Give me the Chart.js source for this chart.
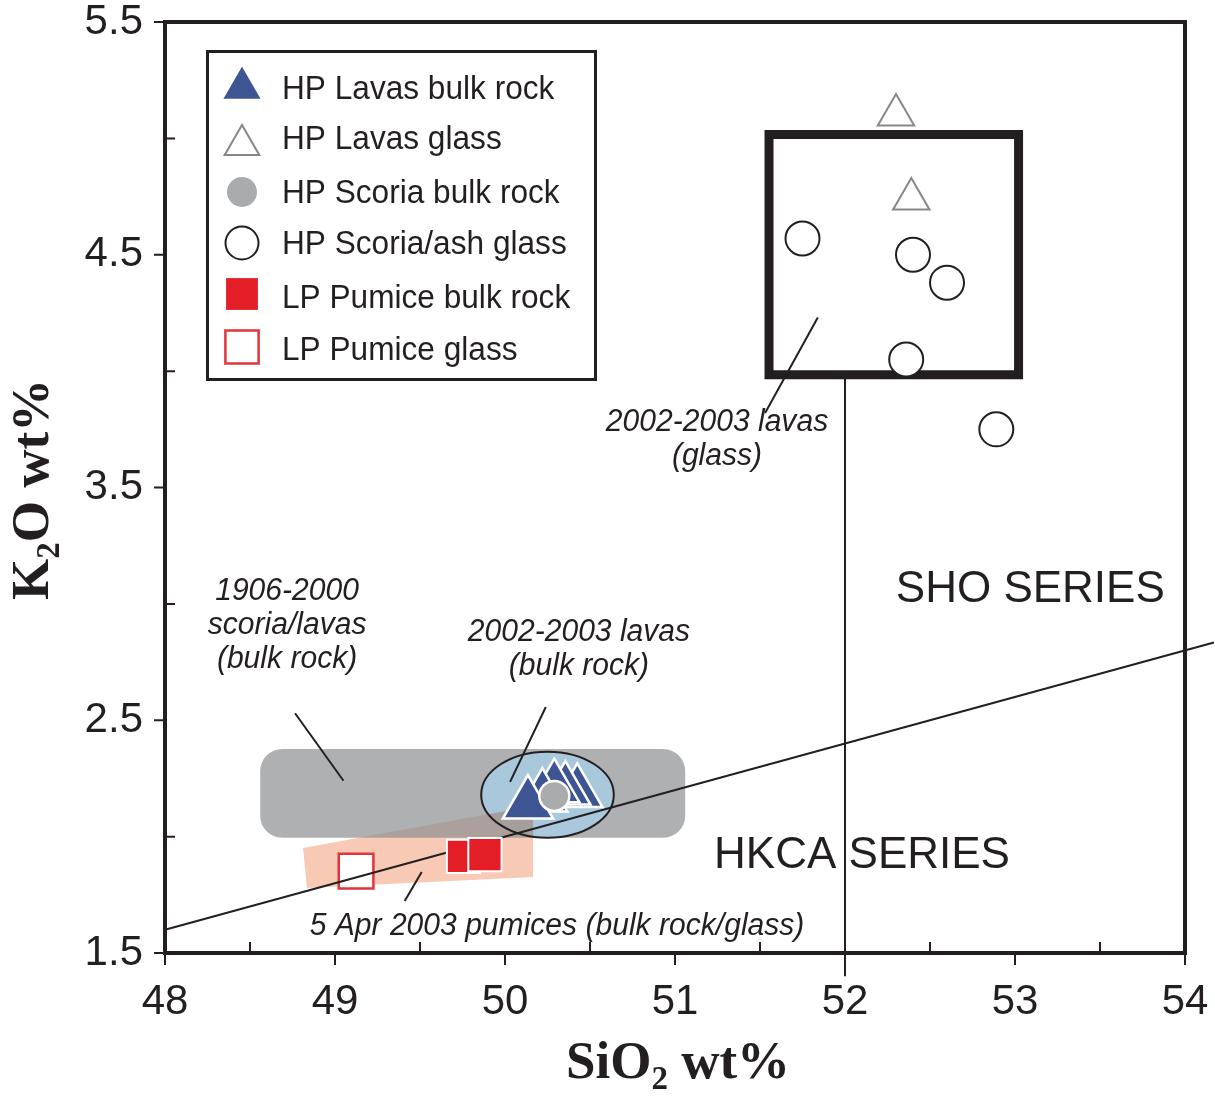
<!DOCTYPE html>
<html>
<head>
<meta charset="utf-8">
<script src="https://cdn.jsdelivr.net/npm/chart.js@4.4.0/dist/chart.umd.min.js"></script>
<style>
  html, body { margin: 0; padding: 0; background: #fff; }
  #wrap { width: 1215px; height: 1097px; }
</style>
</head>
<body>
<div id="wrap"><canvas id="myChart" width="1215" height="1097"></canvas></div>
<script>
// Axis ticks
const xTicks = [48, 49, 50, 51, 52, 53, 54];
const xTickLabels = ["48", "49", "50", "51", "52", "53", "54"];
const xMinorTicks = [48.5, 49.5, 50.5, 51.5, 52.5, 53.5];
const yTicks = [1.5, 2.5, 3.5, 4.5, 5.5];
const yTickLabels = ["1.5", "2.5", "3.5", "4.5", "5.5"];
const yMinorTicks = [2, 3, 4, 5];

// Samples: SiO2 wt% / K2O wt%
const hpLavasBulkSiO2 = [50.425, 50.355, 50.29, 50.22, 50.135];
const hpLavasBulkK2O = [2.19, 2.2, 2.21, 2.17, 2.14];
const hpLavasGlassSiO2 = [52.3, 52.39];
const hpLavasGlassK2O = [5.1, 4.74];
const hpScoriaBulkSiO2 = [50.29];
const hpScoriaBulkK2O = [2.175];
const hpScoriaGlassSiO2 = [51.75, 52.4, 52.6, 52.36, 52.89];
const hpScoriaGlassK2O = [4.57, 4.5, 4.38, 4.05, 3.75];
const lpPumiceBulkSiO2 = [49.756, 49.882];
const lpPumiceBulkK2O = [1.915, 1.923];
const lpPumiceGlassSiO2 = [49.124];
const lpPumiceGlassK2O = [1.852];

// HKCA / SHO boundary and the 52 wt% divide
const boundarySiO2 = [48, 54.17];
const boundaryK2O = [1.6, 2.834];
const divideSiO2 = [52, 52];
const divideK2O = [3.984, 1.4];

// Fields
const glassBoxSiO2 = [51.553, 53.021, 53.021, 51.553, 51.553];
const glassBoxK2O = [5.017, 5.017, 3.984, 3.984, 5.017];
const bulkFieldSiO2 = [48.56, 51.06];
const bulkFieldK2O = [1.995, 2.376];
const lavaEllipseSiO2 = [50.25, 0.39]; // centre, half width
const lavaEllipseK2O = [2.18, 0.185];
const pumiceFieldSiO2 = [48.812, 50.165, 50.165, 48.835];
const pumiceFieldK2O = [1.951, 2.132, 1.827, 1.779];

// Leader lines [from, to]
const leaderSiO2 = [[51.84, 51.53], [48.765, 49.05], [50.24, 50.03], [49.51, 49.41]];
const leaderK2O = [[4.23, 3.82], [2.53, 2.24], [2.557, 2.235], [1.848, 1.723]];

// Annotations
const noteLines = [
  ["2002-2003 lavas", "(glass)"],
  ["1906-2000", "scoria/lavas", "(bulk rock)"],
  ["2002-2003 lavas", "(bulk rock)"],
  ["5 Apr 2003 pumices (bulk rock/glass)"],
];
const noteSiO2 = [51.247, 48.718, 50.435, 50.306];
const noteK2O = [3.717, 2.918, 2.815, 1.625];
const seriesNames = ["SHO SERIES", "HKCA SERIES"];
const seriesSiO2 = [53.09, 52.1];
const seriesK2O = [3.073, 1.93];

const INK = "#231f20";
const SANS = "'Liberation Sans', Arial, Helvetica, sans-serif";
const SERIF = "'Liberation Serif', 'Times New Roman', serif";

function toPoints(xs, ys) {
  return xs.map((v, i) => ({ x: v, y: ys[i] }));
}

const markers = [
  {
    label: "HP Lavas bulk rock",
    data: toPoints(hpLavasBulkSiO2, hpLavasBulkK2O),
    pointStyle: "triangle",
    pointRadius: 29,
    backgroundColor: "#3d5592",
    borderColor: "#ffffff",
    borderWidth: 2.5,
    legendRadius: 24,
    order: 4,
  },
  {
    label: "HP Lavas glass",
    data: toPoints(hpLavasGlassSiO2, hpLavasGlassK2O),
    pointStyle: "triangle",
    pointRadius: 21,
    backgroundColor: "#ffffff",
    borderColor: "#86878b",
    borderWidth: 2,
    legendRadius: 20,
    order: 2,
  },
  {
    label: "HP Scoria bulk rock",
    data: toPoints(hpScoriaBulkSiO2, hpScoriaBulkK2O),
    pointStyle: "circle",
    pointRadius: 15,
    backgroundColor: "#a9abad",
    borderColor: "#ffffff",
    borderWidth: 2.5,
    legendRadius: 15,
    legendBorder: 0,
    order: 3,
  },
  {
    label: "HP Scoria/ash glass",
    data: toPoints(hpScoriaGlassSiO2, hpScoriaGlassK2O),
    pointStyle: "circle",
    pointRadius: 17,
    backgroundColor: "#ffffff",
    borderColor: INK,
    borderWidth: 2,
    legendRadius: 16.5,
    order: 2,
  },
  {
    label: "LP Pumice bulk rock",
    data: toPoints(lpPumiceBulkSiO2, lpPumiceBulkK2O),
    pointStyle: "rect",
    pointRadius: 23.5,
    backgroundColor: "#e41e26",
    borderColor: "#ffffff",
    borderWidth: 2,
    legendRadius: 22.5,
    legendBorder: 0,
    order: 5,
  },
  {
    label: "LP Pumice glass",
    data: toPoints(lpPumiceGlassSiO2, lpPumiceGlassK2O),
    pointStyle: "rect",
    pointRadius: 24.5,
    backgroundColor: "#ffffff",
    borderColor: "#e2343b",
    borderWidth: 2.5,
    legendRadius: 23.5,
    order: 10,
  },
];

const lineSets = [
  {
    label: "boundary",
    data: toPoints(boundarySiO2, boundaryK2O),
    borderWidth: 2,
    order: 9,
  },
  {
    label: "divide",
    data: toPoints(divideSiO2, divideK2O),
    borderWidth: 2,
    order: 8,
  },
  {
    label: "glass box",
    data: toPoints(glassBoxSiO2, glassBoxK2O),
    borderWidth: 9,
    borderJoinStyle: "miter",
    borderCapStyle: "square",
    order: 8,
  },
].concat(
  leaderSiO2.map((xs, i) => ({
    label: "leader " + i,
    data: toPoints(xs, leaderK2O[i]),
    borderWidth: 2,
    order: 1,
  }))
).map((d) => ({
  ...d,
  showLine: true,
  pointRadius: 0,
  borderColor: INK,
  backgroundColor: INK,
  clip: false,
  fill: false,
}));

// Shaded fields under the markers
const fieldsPlugin = {
  id: "fields",
  beforeDatasetsDraw(chart) {
    const { ctx, scales: { x, y } } = chart;
    ctx.save();

    const pumicePath = () => {
      ctx.beginPath();
      pumiceFieldSiO2.forEach((v, i) => {
        const px = x.getPixelForValue(v);
        const py = y.getPixelForValue(pumiceFieldK2O[i]);
        if (i === 0) ctx.moveTo(px, py);
        else ctx.lineTo(px, py);
      });
      ctx.closePath();
    };

    // 5 Apr 2003 pumices
    ctx.fillStyle = "#f8cab6";
    pumicePath();
    ctx.fill();

    // 1906-2000 scoria/lavas (translucent over the pumice field)
    const bx0 = x.getPixelForValue(bulkFieldSiO2[0]);
    const bx1 = x.getPixelForValue(bulkFieldSiO2[1]);
    const by0 = y.getPixelForValue(bulkFieldK2O[0]);
    const by1 = y.getPixelForValue(bulkFieldK2O[1]);
    ctx.fillStyle = "rgba(140, 142, 145, 0.7)";
    ctx.beginPath();
    ctx.roundRect(bx0, by1, bx1 - bx0, by0 - by1, 22);
    ctx.fill();

    // 2002-2003 lavas bulk rock
    const ex = x.getPixelForValue(lavaEllipseSiO2[0]);
    const ey = y.getPixelForValue(lavaEllipseK2O[0]);
    const rx = x.getPixelForValue(lavaEllipseSiO2[0] + lavaEllipseSiO2[1]) - ex;
    const ry = ey - y.getPixelForValue(lavaEllipseK2O[0] + lavaEllipseK2O[1]);
    ctx.beginPath();
    ctx.ellipse(ex, ey, rx, ry, 0, 0, Math.PI * 2);
    ctx.fillStyle = "#a9c8dc";
    ctx.fill();
    ctx.save();
    ctx.clip();
    ctx.globalCompositeOperation = "multiply";
    ctx.fillStyle = "#f8cab6";
    pumicePath();
    ctx.fill();
    ctx.restore();
    ctx.beginPath();
    ctx.ellipse(ex, ey, rx, ry, 0, 0, Math.PI * 2);
    ctx.lineWidth = 2;
    ctx.strokeStyle = INK;
    ctx.stroke();
    ctx.restore();
  },
};

function drawScaledText(ctx, text, px, py, font, align, sx) {
  ctx.save();
  ctx.font = font;
  ctx.textAlign = align;
  ctx.textBaseline = "alphabetic";
  ctx.translate(px, py);
  ctx.scale(sx, 1);
  ctx.fillText(text, 0, 0);
  ctx.restore();
}

// Text with a subscript part, centred on (0, 0) of the current transform
function drawSubscripted(ctx, parts, size) {
  const big = "bold " + size + "px " + SERIF;
  const small = "bold " + Math.round(size * 0.62) + "px " + SERIF;
  let total = 0;
  const widths = parts.map(([t, sub]) => {
    ctx.font = sub ? small : big;
    const w = ctx.measureText(t).width;
    total += w;
    return w;
  });
  let cx = -total / 2;
  ctx.textAlign = "left";
  ctx.textBaseline = "alphabetic";
  parts.forEach(([t, sub], i) => {
    ctx.font = sub ? small : big;
    ctx.fillText(t, cx, sub ? size * 0.2 : 0);
    cx += widths[i];
  });
}

const decorPlugin = {
  id: "decor",
  afterDatasetsDraw(chart) {
    const { ctx, scales: { x, y } } = chart;
    ctx.save();
    ctx.fillStyle = INK;

    // field annotations
    noteLines.forEach((lines, i) => {
      const px = x.getPixelForValue(noteSiO2[i]);
      const py = y.getPixelForValue(noteK2O[i]);
      lines.forEach((t, j) => {
        drawScaledText(ctx, t, px, py + 11 + j * 34 - (lines.length - 1) * 17, "italic 31px " + SANS, "center", 0.97);
      });
    });

    // series names
    seriesNames.forEach((t, i) => {
      const px = x.getPixelForValue(seriesSiO2[i]);
      const py = y.getPixelForValue(seriesK2O[i]);
      drawScaledText(ctx, t, px, py + 15, "44px " + SANS, "center", 1.0);
    });
    ctx.restore();
  },
  afterDraw(chart) {
    const { ctx, chartArea: a, scales: { x, y } } = chart;
    ctx.save();
    ctx.strokeStyle = INK;
    ctx.fillStyle = INK;

    // tick marks: major outward, minor inward
    ctx.lineWidth = 2;
    ctx.beginPath();
    xTicks.forEach((v) => {
      const px = x.getPixelForValue(v);
      ctx.moveTo(px, a.bottom);
      ctx.lineTo(px, a.bottom + 12);
    });
    xMinorTicks.forEach((v) => {
      const px = x.getPixelForValue(v);
      ctx.moveTo(px, a.bottom);
      ctx.lineTo(px, a.bottom - 11);
    });
    yTicks.forEach((v) => {
      const py = y.getPixelForValue(v);
      ctx.moveTo(a.left - 11, py);
      ctx.lineTo(a.left, py);
    });
    yMinorTicks.forEach((v) => {
      const py = y.getPixelForValue(v);
      ctx.moveTo(a.left, py);
      ctx.lineTo(a.left + 10, py);
    });
    ctx.stroke();

    // frame
    ctx.lineWidth = 4;
    ctx.strokeRect(a.left, a.top, a.right - a.left, a.bottom - a.top);

    // axis titles
    ctx.save();
    ctx.translate((a.left + a.right) / 2 + 3, 1078);
    drawSubscripted(ctx, [["SiO", false], ["2", true], [" wt%", false]], 53);
    ctx.restore();
    ctx.save();
    ctx.translate(48, (a.top + a.bottom) / 2 + 2);
    ctx.rotate(-Math.PI / 2);
    drawSubscripted(ctx, [["K", false], ["2", true], ["O wt%", false]], 53);
    ctx.restore();

    // legend
    const lx = 207.5, ly = 51.5, lw = 388, lh = 328;
    ctx.fillStyle = "#ffffff";
    ctx.fillRect(lx, ly, lw, lh);
    ctx.lineWidth = 3;
    ctx.strokeRect(lx, ly, lw, lh);
    const symbolY = [88, 145, 192, 243, 294, 347];
    const textY = [99, 149, 203, 254, 308, 360];
    markers.forEach((m, i) => {
      ctx.save();
      ctx.fillStyle = m.backgroundColor;
      ctx.strokeStyle = m.borderColor;
      const bw = m.legendBorder !== undefined ? m.legendBorder : m.borderWidth;
      ctx.lineWidth = bw;
      Chart.helpers.drawPoint(ctx, {
        pointStyle: m.pointStyle,
        radius: m.legendRadius,
        rotation: 0,
        borderWidth: bw,
      }, 242, symbolY[i]);
      ctx.restore();
      ctx.fillStyle = INK;
      drawScaledText(ctx, m.label, 282, textY[i], "34px " + SANS, "left", 0.93);
    });
    ctx.restore();
  },
};

function noPadding(scale) {
  scale.paddingTop = 0;
  scale.paddingBottom = 0;
  scale.paddingLeft = 0;
  scale.paddingRight = 0;
}

const ctx = document.getElementById("myChart").getContext("2d");
new Chart(ctx, {
  type: "scatter",
  data: { datasets: markers.concat(lineSets) },
  options: {
    responsive: false,
    animation: false,
    events: [],
    layout: { autoPadding: false, padding: { top: 22, right: 30, left: 0, bottom: 0 } },
    plugins: {
      legend: { display: false },
      tooltip: { enabled: false },
    },
    scales: {
      x: {
        type: "linear",
        min: 48,
        max: 54,
        afterBuildTicks: (scale) => {
          scale.ticks = xTicks.map((v) => ({ value: v }));
        },
        afterFit: (scale) => {
          scale.height = 144;
          noPadding(scale);
        },
        ticks: {
          callback: (value, index) => xTickLabels[index],
          font: { family: SANS, size: 42 },
          color: INK,
          padding: 24,
          maxRotation: 0,
          autoSkip: false,
        },
        grid: { display: false, drawTicks: false },
        border: { display: false },
      },
      y: {
        type: "linear",
        min: 1.5,
        max: 5.5,
        afterBuildTicks: (scale) => {
          scale.ticks = yTicks.map((v) => ({ value: v }));
        },
        afterFit: (scale) => {
          scale.width = 165;
          noPadding(scale);
        },
        ticks: {
          callback: (value, index) => yTickLabels[index],
          font: { family: SANS, size: 42 },
          color: INK,
          padding: 22,
          autoSkip: false,
        },
        grid: { display: false, drawTicks: false },
        border: { display: false },
      },
    },
  },
  plugins: [fieldsPlugin, decorPlugin],
});
</script>
</body>
</html>
